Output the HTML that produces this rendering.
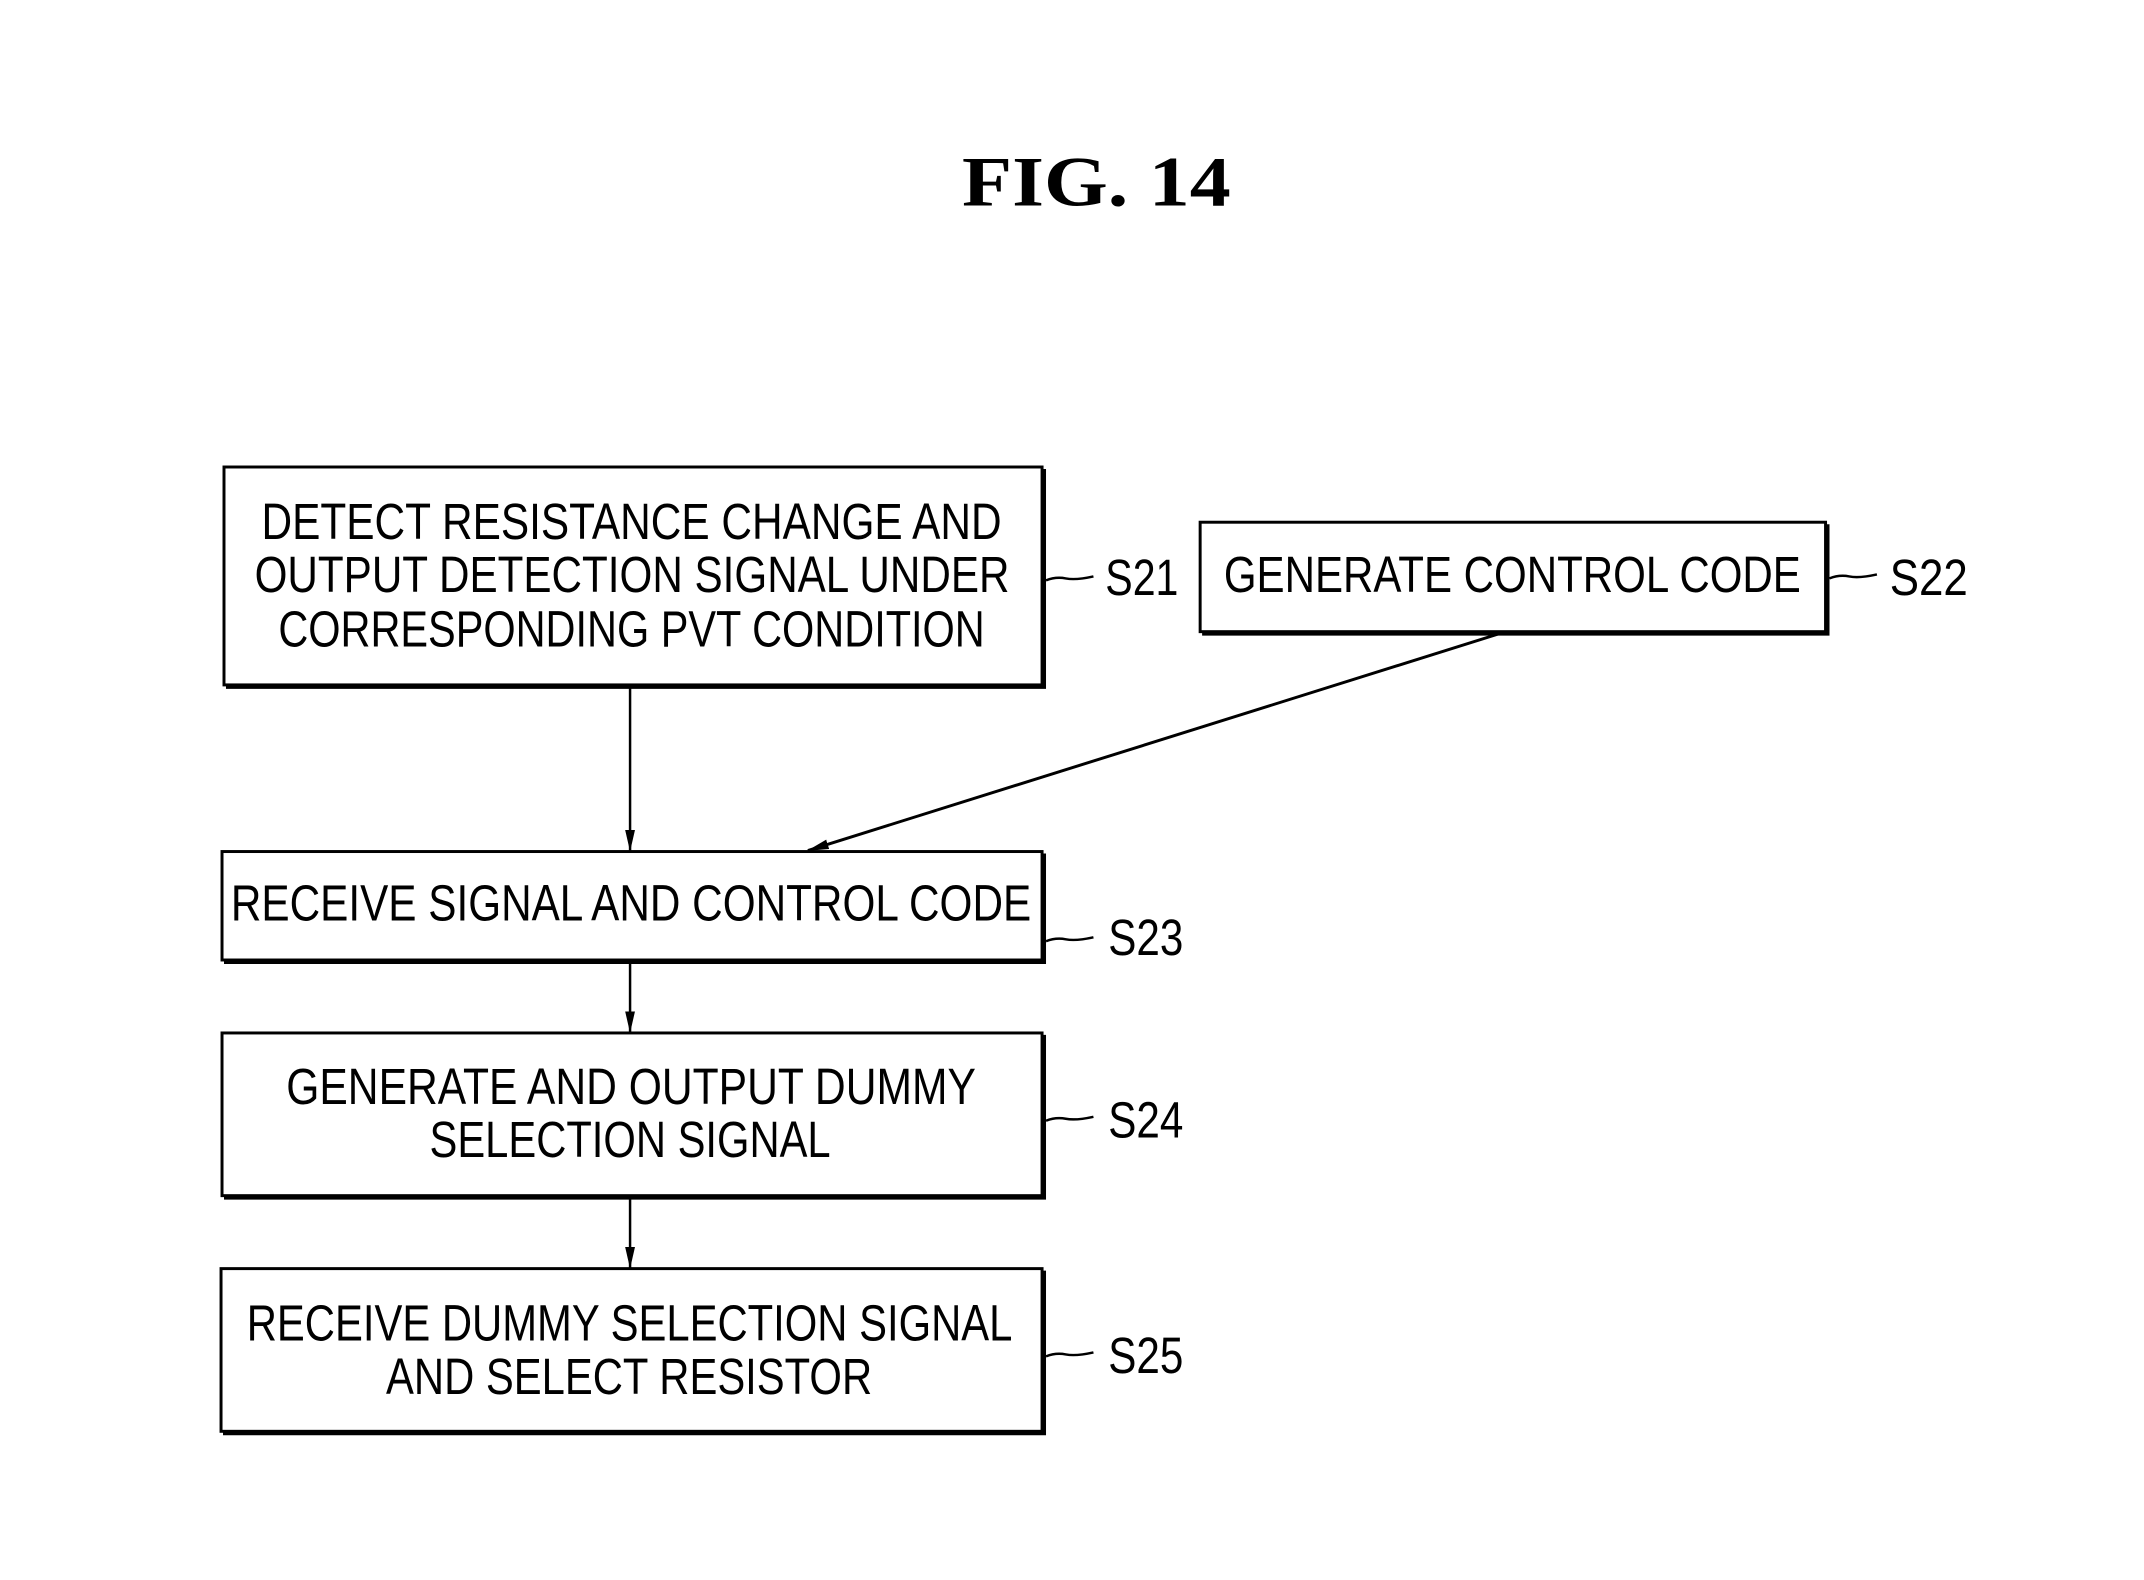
<!DOCTYPE html>
<html><head><meta charset="utf-8"><style>
html,body{margin:0;padding:0;background:#fff;}
svg{display:block;}
text{font-family:"Liberation Sans",sans-serif;fill:#000;}
</style></head><body>
<svg width="2144" height="1580" viewBox="0 0 2144 1580" xmlns="http://www.w3.org/2000/svg">
<defs><marker id="ah" markerWidth="22" markerHeight="12" refX="21" refY="6" orient="auto" markerUnits="userSpaceOnUse" viewBox="0 0 22 12"><path d="M0,1 L22,6 L0,11 z" fill="#000"/></marker></defs>
<g transform="translate(224,467) scale(0.988,0.986) translate(-224,-467)">
<text x="971" y="202" textLength="272" lengthAdjust="spacingAndGlyphs" style="font-family:'Liberation Serif',serif;font-weight:bold;font-size:72px">FIG.  14</text>
<g fill="none" stroke="#000">
<rect x="224" y="467" width="828" height="221" stroke-width="3"/>
<path d="M226 690 H1054 V469" stroke-width="4"/>
<rect x="1212" y="523" width="633" height="111" stroke-width="3"/>
<path d="M1214 636 H1847 V525" stroke-width="4"/>
<rect x="222" y="857" width="830" height="110" stroke-width="3"/>
<path d="M224 969 H1054 V859" stroke-width="4"/>
<rect x="222" y="1041" width="830" height="165" stroke-width="3"/>
<path d="M224 1208 H1054 V1043" stroke-width="4"/>
<rect x="221" y="1280" width="831" height="165" stroke-width="3"/>
<path d="M223 1447 H1054 V1282" stroke-width="4"/>
<path d="M1056 582 q10 -4 20 -2 t28 -2" stroke-width="2.5"/>
<path d="M1849 580 q10 -4 20 -2 t28 -2" stroke-width="2.5"/>
<path d="M1056 948 q10 -4 20 -2 t28 -2" stroke-width="2.5"/>
<path d="M1056 1130 q10 -4 20 -2 t28 -2" stroke-width="2.5"/>
<path d="M1056 1369 q10 -4 20 -2 t28 -2" stroke-width="2.5"/>
<line x1="635" y1="691" x2="635" y2="856" stroke-width="2.5" marker-end="url(#ah)"/>
<line x1="1515" y1="636" x2="815" y2="856" stroke-width="3" marker-end="url(#ah)"/>
<line x1="635" y1="970" x2="635" y2="1040" stroke-width="2.5" marker-end="url(#ah)"/>
<line x1="635" y1="1209" x2="635" y2="1279" stroke-width="2.5" marker-end="url(#ah)"/>
</g>
<g style="font-size:52px">
<text x="262" y="540" textLength="749" lengthAdjust="spacingAndGlyphs">DETECT RESISTANCE CHANGE AND</text>
<text x="255" y="594" textLength="764" lengthAdjust="spacingAndGlyphs">OUTPUT DETECTION SIGNAL UNDER</text>
<text x="279" y="649" textLength="715" lengthAdjust="spacingAndGlyphs">CORRESPONDING PVT CONDITION</text>
<text x="1236" y="594" textLength="584" lengthAdjust="spacingAndGlyphs">GENERATE CONTROL CODE</text>
<text x="231" y="927" textLength="810" lengthAdjust="spacingAndGlyphs">RECEIVE SIGNAL AND CONTROL CODE</text>
<text x="287" y="1113" textLength="698" lengthAdjust="spacingAndGlyphs">GENERATE AND OUTPUT DUMMY</text>
<text x="432" y="1167" textLength="406" lengthAdjust="spacingAndGlyphs">SELECTION SIGNAL</text>
<text x="247" y="1353" textLength="775" lengthAdjust="spacingAndGlyphs">RECEIVE DUMMY SELECTION SIGNAL</text>
<text x="388" y="1407" textLength="492" lengthAdjust="spacingAndGlyphs">AND SELECT RESISTOR</text>
<text x="1116" y="597" textLength="74" lengthAdjust="spacingAndGlyphs">S21</text>
<text x="1910" y="597" textLength="79" lengthAdjust="spacingAndGlyphs">S22</text>
<text x="1119" y="962" textLength="76" lengthAdjust="spacingAndGlyphs">S23</text>
<text x="1119" y="1147" textLength="76" lengthAdjust="spacingAndGlyphs">S24</text>
<text x="1119" y="1386" textLength="76" lengthAdjust="spacingAndGlyphs">S25</text>
</g>
</g>
</svg>
</body></html>
